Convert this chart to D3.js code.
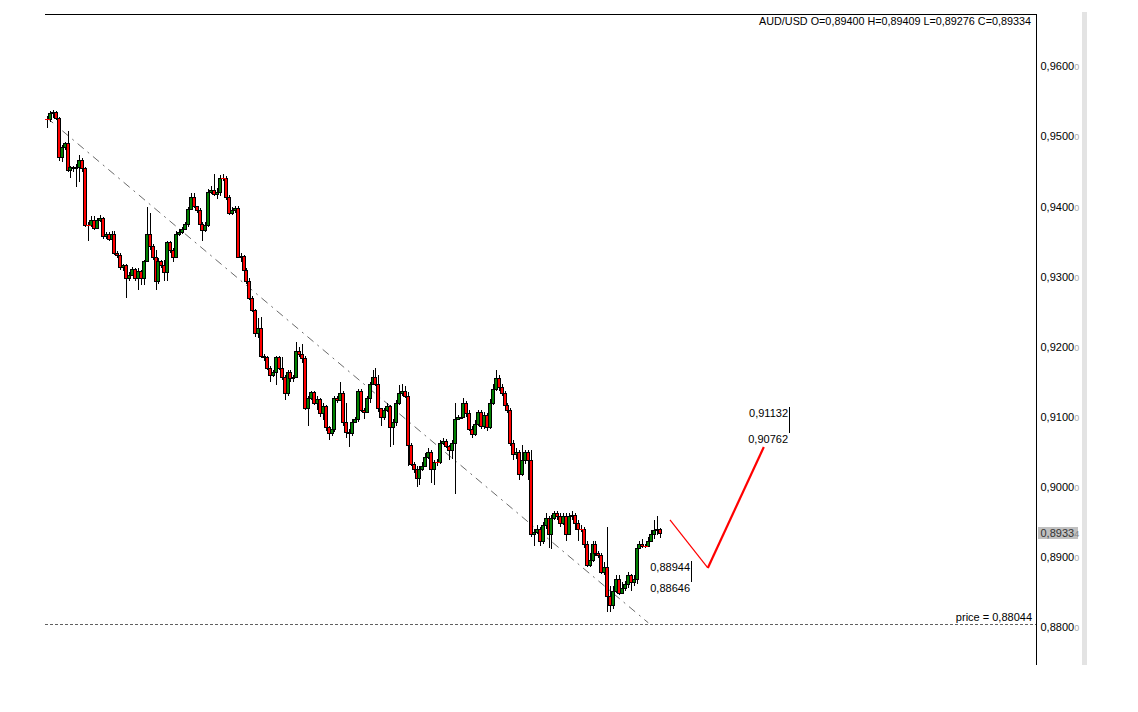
<!DOCTYPE html>
<html><head><meta charset="utf-8">
<script src="https://cdn.jsdelivr.net/npm/d3@7"></script>
<style>body{margin:0;background:#fff} text{font-family:"Liberation Sans",Arial,sans-serif}</style>
</head><body><svg id="c" width="1138" height="712"></svg>
<script>
const symbol = "AUD/USD";
const header = [["O","0,89400"],["H","0,89409"],["L","0,89276"],["C","0,89334"]];
const firstOpen = 0.9524;
const closes = [
.9524,.9533,.9534,.9526,.9470,.9484,.9490,.9451,.9456,.9454,
.9456,.9466,.9454,.9373,.9373,.9381,.9369,.9380,
.9383,.9357,.9360,.9354,.9361,.9333,.9331,.9313,.9316,
.9297,.9302,.9310,.9297,.9307,.9297,.9322,.9361,.9344,.9327,
.9294,.9322,.9316,.9306,.9349,.9337,.9327,.9361,.9363,.9367,
.9374,.9396,.9413,.9400,.9394,.9374,.9366,.9373,.9421,.9423,
.9417,.9420,.9440,.9440,.9413,.9390,.9394,.9397,.9327,.9329,
.9309,.9294,.9269,.9252,.9219,.9227,.9187,.9185,.9169,.9160,
.9163,.9185,.9170,.9156,.9133,.9163,.9155,.9156,.9194,.9189,
.9183,.9113,.9126,.9135,.9119,.9125,.9105,.9115,.9085,.9076,
.9082,.9126,.9123,.9133,.9092,.9078,.9076,.9093,.9096,.9137,
.9109,.9106,.9127,.9147,.9156,.9147,.9112,.9099,.9109,.9115,
.9085,.9092,.9119,.9133,.9137,.9130,.9060,.9032,.9025,.9013,
.9026,.9030,.9043,.9050,.9025,.9035,.9035,.9063,.9065,.9058,
.9052,.9063,.9097,.9099,.9100,.9119,.9105,.9083,.9075,.9089,
.9106,.9086,.9102,.9085,.9120,.9140,.9155,.9142,.9133,.9117,
.9109,.9062,.9046,.9049,.9018,.9038,.9049,.9038,.8932,.8935,
.8940,.8923,.8945,.8956,.8933,.8955,.8962,.8959,.8949,.8959,
.8933,.8958,.8960,.8949,.8940,.8940,.8918,.8889,.8896,.8919,
.8905,.8903,.8879,.8885,.8844,.8831,.8851,.8869,.8849,.8855,
.8861,.8874,.8864,.8868,.8912,.8919,.8916,.8916,.8923,.8932,
.8939,.8940,.89334];
const highs = [
.9528,.9536,.9537,.9536,.9527,.9487,.9491,.9508,.9458,.9458,
.9460,.9473,.9469,.9456,.9377,.9386,.9386,.9383,
.9387,.9384,.9363,.9363,.9364,.9364,.9336,.9334,.9317,
.9317,.9306,.9314,.9312,.9312,.9309,.9323,.9399,.9390,.9346,
.9337,.9326,.9324,.9323,.9351,.9350,.9340,.9364,.9367,.9371,
.9377,.9399,.9419,.9419,.9401,.9397,.9377,.9377,.9424,.9429,
.9446,.9426,.9444,.9446,.9443,.9416,.9399,.9401,.9400,.9333,
.9331,.9312,.9297,.9272,.9254,.9240,.9242,.9190,.9187,.9172,
.9167,.9187,.9187,.9185,.9159,.9166,.9166,.9160,.9206,.9199,
.9203,.9186,.9130,.9137,.9137,.9129,.9127,.9119,.9117,.9087,
.9086,.9129,.9129,.9149,.9136,.9120,.9082,.9096,.9100,.9140,
.9139,.9112,.9130,.9150,.9167,.9169,.9160,.9113,.9113,.9119,
.9117,.9096,.9123,.9145,.9146,.9143,.9135,.9063,.9035,.9029,
.9030,.9035,.9048,.9055,.9053,.9038,.9040,.9066,.9070,.9068,
.9060,.9066,.9119,.9103,.9105,.9126,.9122,.9109,.9086,.9095,
.9110,.9109,.9106,.9105,.9125,.9146,.9166,.9159,.9146,.9136,
.9120,.9112,.9066,.9055,.9052,.9060,.9053,.9052,.9052,.8940,
.8946,.8943,.8950,.8963,.8959,.8960,.8966,.8966,.8963,.8963,
.8962,.8963,.8966,.8963,.8953,.8946,.8943,.8923,.8906,.8923,
.8922,.8909,.8906,.8892,.8942,.8859,.8859,.8874,.8874,.8864,
.8866,.8878,.8876,.8874,.8918,.8923,.8926,.8919,.8929,.8938,
.8952,.8958,.89409];
const lows = [
.9511,.9520,.9526,.9523,.9464,.9463,.9480,.9449,.9440,.9449,
.9427,.9434,.9449,.9371,.9351,.9371,.9366,.9367,
.9377,.9354,.9353,.9351,.9341,.9330,.9326,.9309,.9307,
.9269,.9293,.9300,.9294,.9280,.9287,.9287,.9320,.9337,.9323,
.9280,.9289,.9312,.9294,.9294,.9334,.9320,.9326,.9357,.9360,
.9366,.9371,.9394,.9397,.9390,.9371,.9351,.9363,.9370,.9417,
.9414,.9411,.9414,.9436,.9409,.9387,.9387,.9391,.9326,.9320,
.9306,.9289,.9266,.9249,.9214,.9212,.9183,.9180,.9166,.9149,
.9157,.9145,.9166,.9152,.9123,.9130,.9149,.9150,.9155,.9185,
.9177,.9110,.9087,.9123,.9116,.9109,.9100,.9095,.9080,.9066,
.9072,.9078,.9119,.9122,.9087,.9069,.9056,.9073,.9092,.9093,
.9106,.9097,.9105,.9119,.9146,.9143,.9107,.9087,.9095,.9106,
.9056,.9059,.9087,.9116,.9130,.9126,.9030,.9029,.9020,.8999,
.9003,.9023,.9028,.9040,.9006,.9002,.9029,.9032,.9060,.9055,
.9038,.9040,.8989,.9095,.9096,.9099,.9100,.9079,.9070,.9072,
.9086,.9083,.9083,.9080,.9082,.9117,.9137,.9137,.9129,.9115,
.9105,.9058,.9038,.9040,.9009,.9015,.9033,.9009,.8929,.8916,
.8933,.8916,.8918,.8940,.8912,.8911,.8952,.8952,.8943,.8946,
.8923,.8931,.8952,.8938,.8923,.8935,.8912,.8886,.8886,.8892,
.8901,.8898,.8875,.8874,.8821,.8822,.8826,.8848,.8845,.8848,
.8852,.8855,.8851,.8858,.8861,.8912,.8912,.8913,.8915,.8923,
.8926,.8931,.89276];
const yTicks = [0.88,0.89,0.90,0.91,0.92,0.93,0.94,0.95,0.96];
const lastPrice = 0.89334;
const priceLevel = 0.88044;
const trendLine = [{i:0,p:0.9526},{i:205,p:0.8806}];
const projection = [{i:212.4,p:0.89526},{i:225.3,p:0.88842},{i:244.4,p:0.90568}];
const levelsA = {i:219.6, values:[0.88944,0.88646]};
const levelsB = {i:253.0, values:[0.91132,0.90762]};

const fmt = v => v.toFixed(5).replace('.', ',');
const svg = d3.select('#c');
svg.append('rect').attr('width',1138).attr('height',712).attr('fill','#fff');

const N = closes.length;
const opens = closes.map((c,i)=> i===0 ? firstOpen : closes[i-1]);
const x = d3.scaleLinear().domain([0, N-1]).range([47, 660]);
const y = d3.scaleLinear().domain([0.88, 0.96]).range([627, 66]);

// frame
svg.append('line').attr('x1',45).attr('x2',1037).attr('y1',14.5).attr('y2',14.5).attr('stroke','#000');
svg.append('line').attr('x1',1036.5).attr('x2',1036.5).attr('y1',14).attr('y2',665).attr('stroke','#000');
svg.append('rect').attr('x',1082).attr('y',12).attr('width',5).attr('height',653).attr('fill','#e3e3e3');

// price line
svg.append('line').attr('x1',45).attr('x2',1036).attr('y1',Math.round(y(priceLevel))+0.5).attr('y2',Math.round(y(priceLevel))+0.5)
  .attr('stroke','#606060').attr('stroke-dasharray','3,2');
svg.append('text').attr('x',1032).attr('y',Math.round(y(priceLevel))-3).attr('text-anchor','end')
  .attr('font-size',11).text('price = ' + fmt(priceLevel));

// trend line
svg.append('line').attr('x1',x(trendLine[0].i)).attr('y1',y(trendLine[0].p))
  .attr('x2',x(trendLine[1].i)).attr('y2',y(trendLine[1].p))
  .attr('stroke','#6a6a6a').attr('stroke-width',1).attr('stroke-dasharray','8,5,2,5');

// candles
const g = svg.append('g');
const idx = d3.range(N);
g.selectAll('line.w').data(idx).join('line').attr('class','w')
  .attr('x1',i=>Math.round(x(i))+0.5).attr('x2',i=>Math.round(x(i))+0.5)
  .attr('y1',i=>y(highs[i])).attr('y2',i=>y(lows[i]))
  .attr('stroke','#000').attr('stroke-width',1).attr('shape-rendering','crispEdges');
g.selectAll('rect.b').data(idx.filter(i=>Math.abs(opens[i]-closes[i])>1e-9)).join('rect').attr('class','b')
  .attr('x',i=>Math.round(x(i))-1.5)
  .attr('y',i=>Math.round(y(Math.max(opens[i],closes[i])))+0.5)
  .attr('width',3)
  .attr('height',i=>Math.max(1,Math.round(y(Math.min(opens[i],closes[i])))-Math.round(y(Math.max(opens[i],closes[i])))))
  .attr('fill',i=>closes[i]>opens[i]?'#008000':'#ff0000')
  .attr('stroke','#000').attr('stroke-width',1).attr('shape-rendering','crispEdges');
g.selectAll('line.d').data(idx.filter(i=>Math.abs(opens[i]-closes[i])<=1e-9)).join('line').attr('class','d')
  .attr('x1',i=>Math.round(x(i))-2).attr('x2',i=>Math.round(x(i))+3)
  .attr('y1',i=>Math.round(y(closes[i]))+0.5).attr('y2',i=>Math.round(y(closes[i]))+0.5)
  .attr('stroke','#ff0000').attr('shape-rendering','crispEdges');

// projection zigzag
svg.append('line').attr('x1',x(projection[0].i)).attr('y1',y(projection[0].p))
  .attr('x2',x(projection[1].i)).attr('y2',y(projection[1].p)).attr('stroke','#ff0000').attr('stroke-width',1.2);
svg.append('line').attr('x1',x(projection[1].i)).attr('y1',y(projection[1].p))
  .attr('x2',x(projection[2].i)).attr('y2',y(projection[2].p)).attr('stroke','#ff0000').attr('stroke-width',2.2);

// level annotations
[levelsA, levelsB].forEach(L => {
  const lx = Math.round(x(L.i))+0.5;
  svg.append('line').attr('x1',lx).attr('x2',lx).attr('y1',y(L.values[0])).attr('y2',y(L.values[1]))
    .attr('stroke','#000').attr('shape-rendering','crispEdges');
  L.values.forEach(v => {
    svg.append('text').attr('x',lx-1.5).attr('y',y(v)+10).attr('text-anchor','end')
      .attr('font-size',11).text(fmt(v));
  });
});

// y axis
const axis = d3.axisRight(y).tickValues(yTicks).tickSize(0).tickPadding(4)
  .tickFormat(d => d.toFixed(4).replace('.', ','));
const ag = svg.append('g').attr('transform','translate(1036.5,0)').call(axis);
ag.select('.domain').remove();
ag.selectAll('text').attr('font-size',11).attr('font-family','"Liberation Sans",Arial,sans-serif')
  .attr('fill','#000').attr('dy','0.35em')
  .each(function(){ d3.select(this).append('tspan').attr('fill','#aaa').attr('font-size',9).text('0'); });

// last price marker
const ly = y(lastPrice);
svg.append('rect').attr('x',1038).attr('y',Math.round(ly)-6).attr('width',40).attr('height',12).attr('fill','#c0c0c0');
const lt = svg.append('text').attr('x',1040.5).attr('y',ly).attr('dy','0.35em').attr('font-size',11).attr('fill','#333')
  .text(lastPrice.toFixed(4).replace('.', ','));
lt.append('tspan').attr('fill','#888').attr('font-size',9).text(String(Math.round(lastPrice*1e5)).slice(-1));

// header
svg.append('text').attr('x',1031).attr('y',25).attr('text-anchor','end').attr('font-size',10.8)
  .text(symbol + ' ' + header.map(h => h[0] + '=' + h[1]).join(' '));
</script></body></html>
